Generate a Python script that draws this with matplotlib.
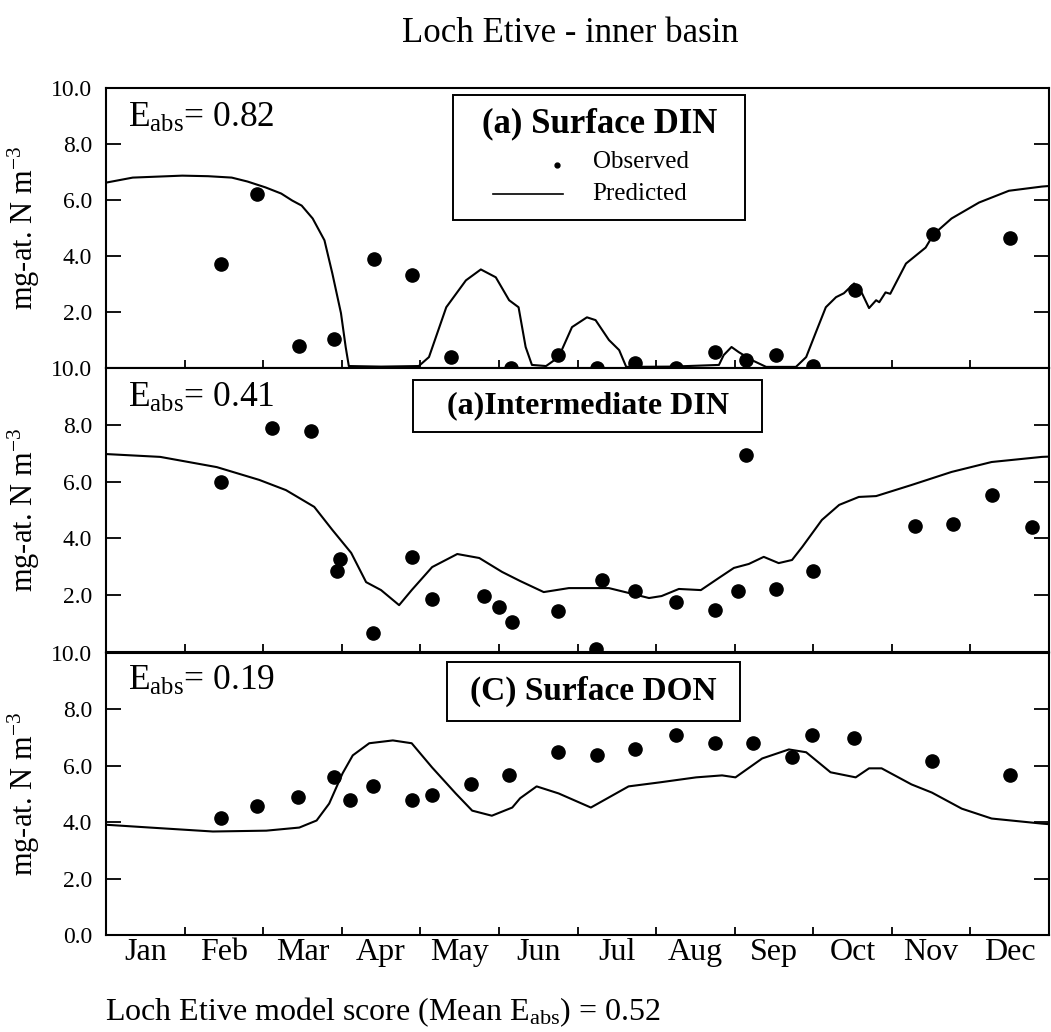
import matplotlib
matplotlib.use("Agg")
import matplotlib.pyplot as plt
from matplotlib.patches import Rectangle
from matplotlib.lines import Line2D
import numpy as np

plt.rcParams["font.family"] = ["Liberation Serif", "DejaVu Serif"]
plt.rcParams["mathtext.fontset"] = "custom"
plt.rcParams["mathtext.rm"] = "Liberation Serif"
plt.rcParams["mathtext.it"] = "Liberation Serif:italic"
plt.rcParams["mathtext.bf"] = "Liberation Serif:bold"

# ---- data (time in months from 1 Jan) ----
months = ["Jan", "Feb", "Mar", "Apr", "May", "Jun",
          "Jul", "Aug", "Sep", "Oct", "Nov", "Dec"]

# (a) surface DIN
surf_din_obs_t = [1.46, 1.92, 2.46, 2.90, 3.41, 3.89, 4.39, 5.15, 5.75, 6.25,
                  6.73, 7.25, 7.75, 8.14, 8.52, 9.00, 9.53, 10.52, 11.50]
surf_din_obs = [3.70, 6.23, 0.78, 1.03, 3.88, 3.31, 0.39, 0.00, 0.46, 0.00,
                0.18, 0.00, 0.57, 0.28, 0.46, 0.07, 2.80, 4.77, 4.66]
surf_din_pred_t = [0, 0.34, 0.97, 1.30, 1.60, 1.80, 2.03, 2.23, 2.37, 2.49, 2.63,
                   2.78, 2.88, 2.99, 3.05, 3.09, 3.50, 3.98, 4.11, 4.33, 4.58,
                   4.77, 4.96, 5.13, 5.25, 5.34, 5.42, 5.60, 5.76, 5.93, 6.12,
                   6.23, 6.40, 6.53, 6.62, 7.20, 7.80, 7.86, 7.96, 8.05, 8.22,
                   8.40, 8.78, 8.91, 9.03, 9.16, 9.29, 9.39, 9.52, 9.62, 9.71,
                   9.80, 9.84, 9.92, 9.98, 10.18, 10.43, 10.53, 10.76, 11.11,
                   11.49, 11.91, 12.0]
surf_din_pred = [6.62, 6.80, 6.87, 6.85, 6.80, 6.66, 6.45, 6.23, 5.98, 5.80, 5.34,
                 4.56, 3.38, 1.96, 0.75, 0.07, 0.05, 0.07, 0.39, 2.17, 3.13,
                 3.52, 3.24, 2.42, 2.17, 0.75, 0.11, 0.07, 0.39, 1.46, 1.81,
                 1.71, 1.00, 0.64, 0.04, 0.05, 0.11, 0.46, 0.75, 0.57, 0.28,
                 0.04, 0.04, 0.39, 1.25, 2.17, 2.53, 2.67, 3.02, 2.67, 2.14,
                 2.42, 2.35, 2.70, 2.65, 3.73, 4.30, 4.77, 5.34, 5.91,
                 6.33, 6.48, 6.50]

# (b) intermediate DIN
int_din_obs_t = [1.46, 2.11, 2.61, 2.94, 2.98, 3.40, 3.89, 4.15, 4.81, 5.00,
                 5.17, 5.75, 6.24, 6.31, 6.73, 7.25, 7.75, 8.04, 8.14, 8.52,
                 9.00, 10.29, 10.78, 11.27, 11.78]
int_din_obs = [5.99, 7.89, 7.78, 2.85, 3.27, 0.67, 3.35, 1.87, 1.97, 1.58,
               1.06, 1.44, 0.10, 2.54, 2.15, 1.76, 1.48, 2.15, 6.94, 2.22,
               2.85, 4.44, 4.51, 5.53, 4.40]
int_din_pred_t = [0, 0.69, 1.41, 1.95, 2.29, 2.65, 2.88, 3.12, 3.31, 3.50,
                  3.73, 3.89, 4.15, 4.47, 4.75, 5.04, 5.27, 5.57, 5.89, 6.40,
                  6.65, 6.91, 7.07, 7.29, 7.57, 7.80, 7.99, 8.18, 8.37, 8.56,
                  8.73, 8.86, 9.11, 9.33, 9.58, 9.80, 10.25, 10.76, 11.27,
                  11.91, 12.0]
int_din_pred = [6.97, 6.87, 6.51, 6.06, 5.70, 5.11, 4.30, 3.49, 2.46, 2.18,
                1.65, 2.18, 2.99, 3.45, 3.31, 2.82, 2.50, 2.11, 2.25, 2.25,
                2.08, 1.90, 1.97, 2.22, 2.18, 2.61, 2.96, 3.10, 3.35, 3.13,
                3.24, 3.70, 4.65, 5.18, 5.46, 5.49, 5.88, 6.34, 6.69,
                6.87, 6.88]

# (c) surface DON
surf_don_obs_t = [1.46, 1.92, 2.44, 2.90, 3.10, 3.40, 3.89, 4.15, 4.64, 5.13,
                  5.75, 6.25, 6.73, 7.25, 7.75, 8.23, 8.73, 8.98, 9.52, 10.51,
                  11.50]
surf_don_obs = [4.16, 4.59, 4.88, 5.62, 4.77, 5.30, 4.80, 4.98, 5.37, 5.66,
                6.48, 6.37, 6.58, 7.08, 6.80, 6.80, 6.30, 7.08, 6.98, 6.16,
                5.66]
surf_don_pred_t = [0, 0.56, 1.36, 2.04, 2.46, 2.68, 2.84, 3.01, 3.14, 3.35,
                   3.65, 3.89, 4.15, 4.45, 4.66, 4.91, 5.17, 5.27, 5.48, 5.76,
                   6.17, 6.65, 7.04, 7.51, 7.84, 8.01, 8.35, 8.69, 8.91, 9.22,
                   9.54, 9.71, 9.87, 10.25, 10.51, 10.89, 11.27, 11.91, 12.0]
surf_don_pred = [3.91, 3.81, 3.67, 3.70, 3.81, 4.06, 4.66, 5.73, 6.37, 6.80,
                 6.90, 6.80, 5.94, 5.02, 4.41, 4.23, 4.52, 4.85, 5.27, 5.02,
                 4.52, 5.27, 5.41, 5.59, 5.66, 5.59, 6.26, 6.58, 6.48, 5.77,
                 5.59, 5.91, 5.91, 5.34, 5.05, 4.48, 4.13, 3.95, 3.93]

panel_titles = ["(a) Surface DIN", "(a)Intermediate DIN", "(C) Surface DON"]
scores = ["0.82", "0.41", "0.19"]
mean_score = "0.52"

obs_t = [surf_din_obs_t, int_din_obs_t, surf_don_obs_t]
obs_v = [surf_din_obs, int_din_obs, surf_don_obs]
pred_t = [surf_din_pred_t, int_din_pred_t, surf_don_pred_t]
pred_v = [surf_din_pred, int_din_pred, surf_don_pred]

# ---- layout ----
W, H = 1051, 1032
fig = plt.figure(figsize=(W / 100, H / 100), dpi=100)

def px_axes(x0, y0, x1, y1):
    return fig.add_axes([x0 / W, 1 - y1 / H, (x1 - x0) / W, (y1 - y0) / H])

panel_px = [(106, 88, 1049, 368), (106, 368, 1049, 652), (106, 653, 1049, 935)]
# title box rectangles in axes fractions (x0, y0, x1, y1)
boxes = [(0.368, 0.529, 0.678, 0.975),
         (0.3256, 0.775, 0.6957, 0.958),
         (0.3616, 0.759, 0.672, 0.968)]
title_sizes = [25, 23, 24]
score_y = [0.861, 0.863, 0.869]

axes = []
for i in range(3):
    ax = px_axes(*panel_px[i])
    axes.append(ax)
    ax.plot(pred_t[i], pred_v[i], color="black", lw=1.5, solid_joinstyle="round")
    ax.plot(obs_t[i], obs_v[i], "o", color="black", ms=9.5, clip_on=False,
            zorder=5)
    ax.set_xlim(0, 12)
    ax.set_ylim(0, 10)

    yt = np.arange(0, 10.1, 2)
    ax.set_yticks(yt)
    if i < 2:
        ax.set_yticklabels([""] + [f"{v:.1f}" for v in yt[1:]])
    else:
        ax.set_yticklabels([f"{v:.1f}" for v in yt])
    ax.tick_params(axis="y", direction="in", left=True, right=True,
                   length=11, width=1.3, labelsize=17, pad=10)

    ax.set_xticks(np.arange(1, 12))
    ax.set_xticklabels([])
    ax.tick_params(axis="x", which="major", direction="in", bottom=True,
                   top=False, length=6, width=1.3)
    if i == 2:
        ax.set_xticks(np.arange(0.5, 12, 1), minor=True)
        ax.set_xticklabels(months, minor=True, fontsize=23)
        ax.tick_params(axis="x", which="minor", length=0, pad=2)

    for s in ax.spines.values():
        s.set_linewidth(1.5)

    ax.set_ylabel("mg-at. N m$^{-3}$", fontsize=22)
    ax.yaxis.set_label_coords(-0.068, 0.5)

    ax.text(0.023, score_y[i], "E$_{\\mathrm{abs}}$= " + scores[i],
            transform=ax.transAxes, fontsize=25.5, ha="left", va="baseline")

    bx0, by0, bx1, by1 = boxes[i]
    ax.add_patch(Rectangle((bx0, by0), bx1 - bx0, by1 - by0,
                           transform=ax.transAxes, fill=True, facecolor="white",
                           edgecolor="black", lw=1.4, zorder=6))
    if i == 0:
        ax.text((bx0 + bx1) / 2, 0.843, panel_titles[i], transform=ax.transAxes,
                fontsize=title_sizes[i], fontweight="bold", ha="center",
                va="baseline", zorder=7)
    else:
        ax.text((bx0 + bx1) / 2, (by0 + by1) / 2, panel_titles[i],
                transform=ax.transAxes, fontsize=title_sizes[i],
                fontweight="bold", ha="center", va="center", zorder=7)

# legend inside the first title box
ax0 = axes[0]
ax0.add_line(Line2D([0.478], [0.725], marker="o", ms=3.5, color="black",
                    transform=ax0.transAxes, zorder=7))
ax0.add_line(Line2D([0.41, 0.485], [0.621, 0.621], color="black", lw=1.2,
                    transform=ax0.transAxes, zorder=7))
ax0.text(0.516, 0.714, "Observed", transform=ax0.transAxes, fontsize=18,
         ha="left", va="baseline", zorder=7)
ax0.text(0.516, 0.600, "Predicted", transform=ax0.transAxes, fontsize=18,
         ha="left", va="baseline", zorder=7)

fig.text(570 / W, 1 - 42 / H, "Loch Etive - inner basin", fontsize=25,
         ha="center", va="baseline")
fig.text(105 / W, 1 - 1020 / H,
         "Loch Etive model score (Mean E$_{\\mathrm{abs}}$) = " + mean_score,
         fontsize=23, ha="left", va="baseline")

fig.savefig("out.png", dpi=100)
